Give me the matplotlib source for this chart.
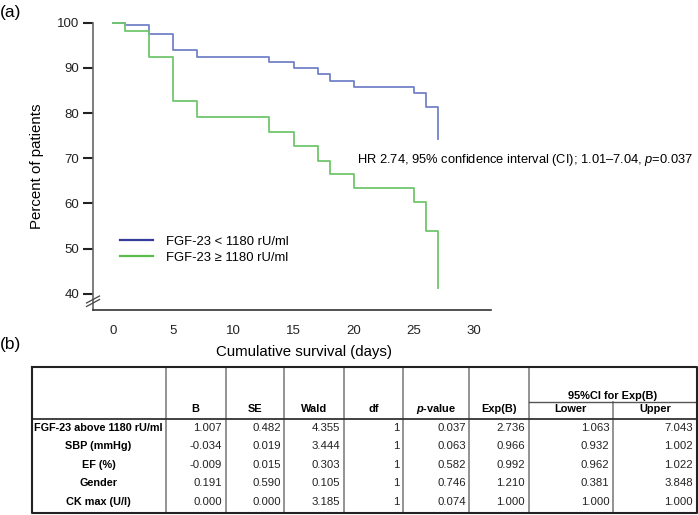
import matplotlib
matplotlib.use("Agg")
import matplotlib.pyplot as plt
from matplotlib.lines import Line2D

plt.rcParams['font.family'] = ['Liberation Sans', 'DejaVu Sans']
plt.rcParams['mathtext.fontset'] = 'custom'
plt.rcParams['mathtext.rm'] = 'Liberation Sans'
plt.rcParams['mathtext.it'] = 'Liberation Sans:italic'
plt.rcParams['mathtext.bf'] = 'Liberation Sans:bold'
plt.rcParams['mathtext.bfit'] = 'Liberation Sans:italic:bold'

# survival curves (days, percent of patients)
low_days = [0, 1, 3, 5, 7, 13, 15, 17, 18, 20, 25, 26, 27]
low_pct = [100, 99.4, 97.5, 93.9, 92.5, 91.2, 89.9, 88.6, 87.2, 85.8, 84.4, 81.3, 74.3]
high_days = [0, 1, 3, 5, 7, 13, 15, 17, 18, 20, 25, 26, 27]
high_pct = [100, 98.1, 92.4, 82.6, 79.1, 75.9, 72.7, 69.4, 66.4, 63.3, 60.2, 53.9, 41.3]
legend_labels = ["FGF-23 < 1180 rU/ml", "FGF-23 \u2265 1180 rU/ml"]

# cox regression table
row_labels = ["FGF-23 above 1180 rU/ml", "SBP (mmHg)", "EF (%)", "Gender", "CK max (U/l)"]
col_heads = ["B", "SE", "Wald", "df", r"$\mathbfit{p}$-value", "Exp(B)", "Lower", "Upper"]
b_vals = [1.007, -0.034, -0.009, 0.191, 0.000]
se_vals = [0.482, 0.019, 0.015, 0.590, 0.000]
wald_vals = [4.355, 3.444, 0.303, 0.105, 3.185]
df_vals = [1, 1, 1, 1, 1]
p_vals = [0.037, 0.063, 0.582, 0.746, 0.074]
exp_vals = [2.736, 0.966, 0.992, 1.210, 1.000]
lower_vals = [1.063, 0.932, 0.962, 0.381, 1.000]
upper_vals = [7.043, 1.002, 1.022, 3.848, 1.000]

W, H = 698, 515
fig = plt.figure(figsize=(W/100, H/100), dpi=100)

# ---- panel (a)
ax = fig.add_axes([93/W, 1-310/H, 398/W, (310-18.2)/H])
ax.step(low_days, low_pct, where='post', color='#7482c9', lw=1.3)
ax.step(high_days, high_pct, where='post', color='#6fc66d', lw=1.3)
ax.set_xlim(-1.66, 31.4)
ax.set_ylim(36.4, 101)
ax.set_xticks([0, 5, 10, 15, 20, 25, 30])
ax.set_yticks([40, 50, 60, 70, 80, 90, 100])
ax.tick_params(axis='x', length=0, pad=10.5, labelsize=9.5, colors='#222222')
ax.tick_params(axis='y', length=7.4, width=1.5, pad=2.5, labelsize=9.5, colors='#222222')
ax.spines['top'].set_visible(False)
ax.spines['right'].set_visible(False)
ax.spines['left'].set_bounds(36.4, 100)
ax.spines['left'].set_color('#666666')
ax.spines['bottom'].set_color('#333333')
ax.spines['left'].set_linewidth(1.2)
ax.spines['bottom'].set_linewidth(1.2)
ax.set_xlabel("Cumulative survival (days)", fontsize=10.8)
ax.xaxis.set_label_coords((304-93)/398, -(352-310)/291.8)
ax.xaxis.label.set_va('center')
ax.set_ylabel("Percent of patients", fontsize=10.8)
ax.yaxis.set_label_coords((37-93)/398, (310-166)/291.8)
ax.yaxis.label.set_va('center')

handles = [Line2D([], [], color='#353a9a', lw=1.6), Line2D([], [], color='#5cbd4f', lw=1.6)]
ax.legend(handles, legend_labels, loc='upper left', bbox_to_anchor=((120-93)/398, (310-235.5)/291.8),
          frameon=False, fontsize=9.4, handlelength=2.5, handletextpad=1.0,
          labelspacing=0.32, borderpad=0, borderaxespad=0)

# ---- overlay in pixel coordinates
ov = fig.add_axes([0, 0, 1, 1])
ov.set_xlim(0, W)
ov.set_ylim(H, 0)
ov.axis('off')

ov.text(0, 12, "(a)", fontsize=12.5, va='center', ha='left')
ov.text(0, 345, "(b)", fontsize=12.5, va='center', ha='left')
ov.text(356.7, 160, r"HR 2.74, 95% confidence interval (CI); 1.01–7.04, $p$=0.037",
        fontsize=9.3, va='center', ha='left')

# axis break mark
for dy in (0, -3.5):
    ov.plot([86.5, 99.5], [306.5+dy, 299.5+dy], color='#444444', lw=0.9)

# table
edges = [31.7, 165.5, 225.7, 284.3, 343.5, 403.3, 469.3, 528.7, 613, 696.7]
top, head_sep, ci_line, bottom = 366.7, 419.3, 401.7, 512.6
for i, x in enumerate(edges[1:-1], start=1):
    y0 = ci_line if i == 8 else top
    ov.plot([x, x], [y0, bottom], color='#8a8a8a', lw=1.3)
ov.plot([edges[7], edges[-1]], [ci_line, ci_line], color='#555555', lw=1.0)
ov.plot([edges[0], edges[-1]], [head_sep, head_sep], color='#333333', lw=1.3)
ov.plot([edges[0], edges[-1], edges[-1], edges[0], edges[0]],
        [top, top, bottom, bottom, top], color='#222222', lw=1.5)

ov.text((edges[7]+edges[-1])/2, 396, "95%CI for Exp(B)", fontsize=7.9, fontweight='bold',
        ha='center', va='center')
for j, head in enumerate(col_heads):
    ov.text((edges[j+1]+edges[j+2])/2, 409.5, head, fontsize=7.9, fontweight='bold',
            ha='center', va='center')

columns = [b_vals, se_vals, wald_vals, df_vals, p_vals, exp_vals, lower_vals, upper_vals]
for r, label in enumerate(row_labels):
    y = 427.7 + r*18.6
    ov.text((edges[0]+edges[1])/2, y, label, fontsize=7.8, fontweight='bold',
            ha='center', va='center')
    for j, col in enumerate(columns):
        v = col[r]
        s = str(v) if isinstance(v, int) else f"{v:.3f}"
        ov.text(edges[j+2]-3.5, y, s, fontsize=8.2, ha='right', va='center', color='#222222')

fig.savefig("out.png", dpi=100)
